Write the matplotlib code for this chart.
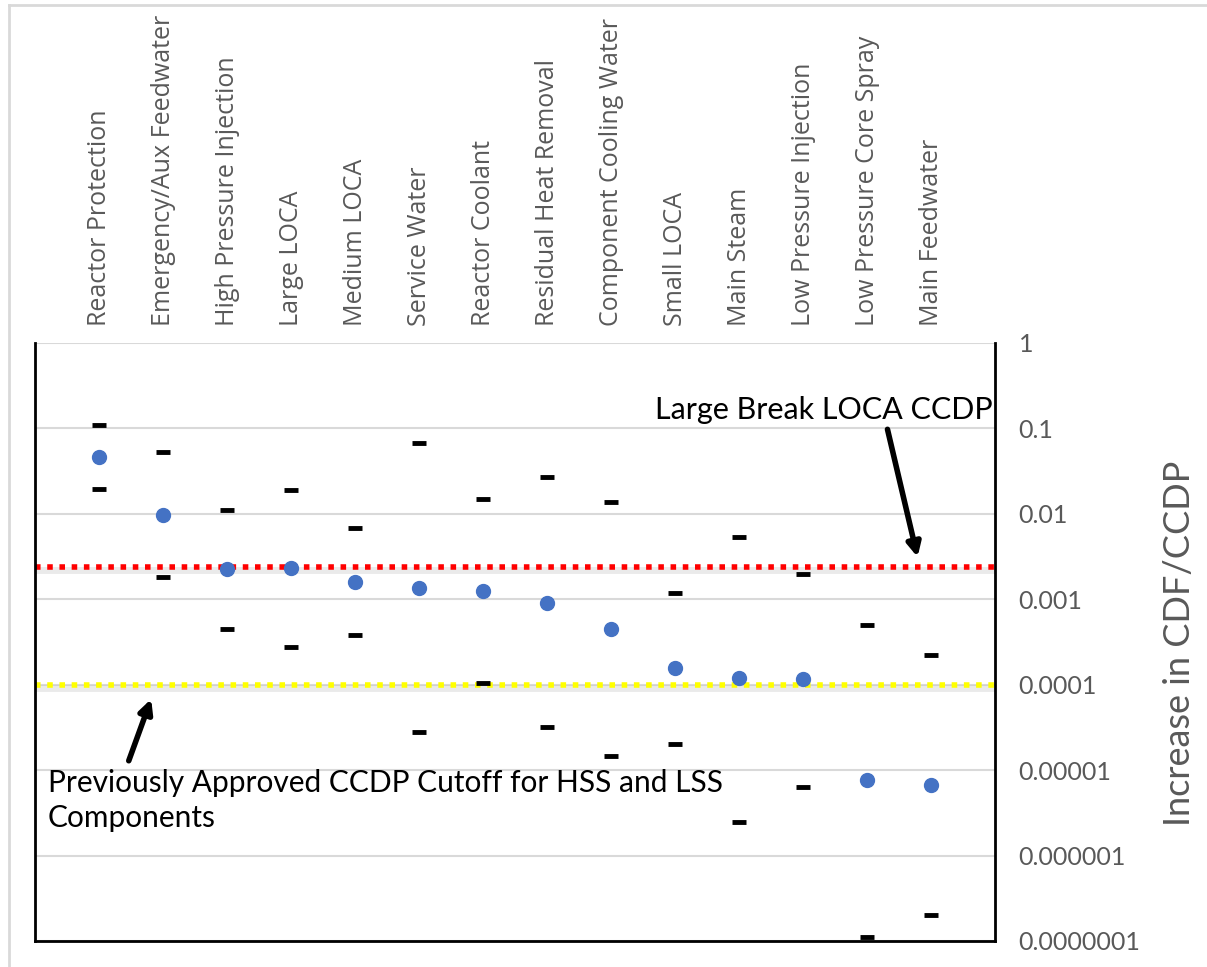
import matplotlib.pyplot as plt
from matplotlib.lines import Line2D

# Component categories (left to right)
categories = ['Reactor Protection', 'Emergency/Aux Feedwater', 'High Pressure Injection',
              'Large LOCA', 'Medium LOCA', 'Service Water', 'Reactor Coolant',
              'Residual Heat Removal', 'Component Cooling Water', 'Small LOCA',
              'Main Steam', 'Low Pressure Injection', 'Low Pressure Core Spray',
              'Main Feedwater']

# mean (dot), upper and lower bounds (dashes)
mean_vals = [0.046, 0.0097, 0.00226, 0.0023, 0.0016, 0.00135, 0.00125,
             0.00091, 0.00045, 0.000156, 0.00012, 0.000117, 7.6e-6, 6.7e-6]
upper_vals = [0.11, 0.053, 0.011, 0.019, 0.0068, 0.067, 0.0149,
              0.027, 0.0138, 0.0012, 0.0054, 0.0020, 0.0005, 0.00022]
lower_vals = [0.0195, 0.0018, 0.00045, 0.00028, 0.00038, 2.8e-5, 1.05e-4,
              3.2e-5, 1.46e-5, 2.0e-5, 2.45e-6, 6.3e-6, 1.1e-7, 2.0e-7]

large_break_ccdp = 0.0024
prev_cutoff = 1e-4

ytick_vals = [1, 0.1, 0.01, 0.001, 0.0001, 0.00001, 0.000001, 0.0000001]
ytick_labels = ['1', '0.1', '0.01', '0.001', '0.0001', '0.00001', '0.000001', '0.0000001']

W, H = 1207, 967
fig = plt.figure(figsize=(W / 100, H / 100), dpi=100)
ax = fig.add_axes([35 / W, 1 - 941 / H, 960 / W, 598 / H])

x = list(range(1, len(categories) + 1))

ax.set_yscale('log')
ax.set_ylim(1e-7, 1)
ax.set_xlim(0, 15)

for v in ytick_vals:
    ax.axhline(v, color='#d9d9d9', lw=1.5, zorder=0)

# threshold lines with a soft shadow
for val, col in [(large_break_ccdp, 'red'), (prev_cutoff, '#ffff00')]:
    ax.axhline(val * 0.92, color='#bbbbbb', lw=5, alpha=0.3, zorder=1)
    ax.axhline(val, color=col, lw=4, ls=(0, (1, 1.2)), zorder=2)

ax.plot(x, upper_vals, ls='none', marker='_', ms=9.5, mew=3.5, color='black', zorder=3)
ax.plot(x, lower_vals, ls='none', marker='_', ms=9.5, mew=3.5, color='black', zorder=3)
ax.plot(x, mean_vals, ls='none', marker='o', ms=10, color='#4472c4', zorder=4)

# category labels on top
ax.xaxis.tick_top()
ax.set_xticks(x)
ax.set_xticklabels(categories, rotation=90, fontsize=18, color='#595959',
                   family='Open Sans', va='bottom')
ax.tick_params(axis='x', length=0, pad=12)

# y axis on the right
ax.yaxis.tick_right()
ax.set_yticks(ytick_vals)
ax.set_yticklabels(ytick_labels, fontsize=18, color='#595959', family='Lato')
ax.minorticks_off()
ax.tick_params(axis='y', length=0, pad=17)
fig.text(1180 / W, 1 - 643 / H, 'Increase in CDF/CCDP', fontsize=26, color='#595959',
         family='Lato', rotation=90, ha='center', va='center')

for side in ['left', 'right', 'bottom']:
    ax.spines[side].set_color('black')
    ax.spines[side].set_linewidth(2)
ax.spines['top'].set_visible(False)

# annotations
ax.annotate('', xy=(13.8, 0.0029), xytext=(13.31, 0.105),
            arrowprops=dict(arrowstyle='-|>,head_length=0.8,head_width=0.4',
                            color='black', lw=4))
ax.text(9.68, 0.165, 'Large Break LOCA CCDP', fontsize=22, family='Lato',
        color='black', va='center', ha='left')

ax.annotate('', xy=(1.83, 7.3e-5), xytext=(1.45, 1.2e-5),
            arrowprops=dict(arrowstyle='-|>,head_length=0.8,head_width=0.4',
                            color='black', lw=4))
ax.text(0.2, 1.02e-5, 'Previously Approved CCDP Cutoff for HSS and LSS\nComponents',
        fontsize=21.5, family='Lato', color='black', va='top', ha='left',
        linespacing=1.3)

# outer chart border
fig.add_artist(Line2D([9 / W, 1], [1 - 5 / H, 1 - 5 / H], color='#d9d9d9', lw=2))
fig.add_artist(Line2D([9 / W, 9 / W], [0, 1 - 5 / H], color='#d9d9d9', lw=2))

fig.savefig('out.png', dpi=100)
